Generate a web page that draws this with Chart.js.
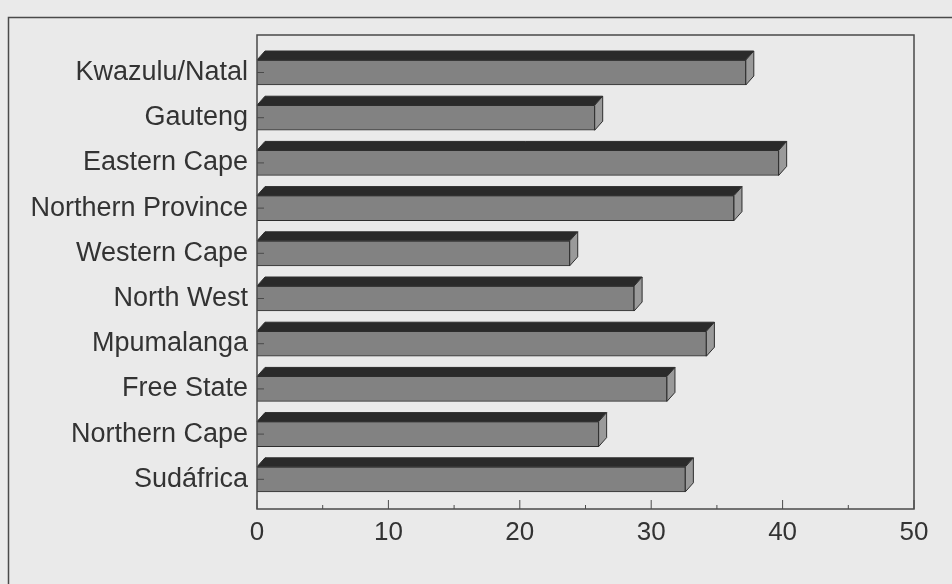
<!DOCTYPE html>
<html>
<head>
<meta charset="utf-8">
<script src="https://cdn.jsdelivr.net/npm/chart.js@4/dist/chart.umd.min.js"></script>
<style>
  html, body { margin: 0; padding: 0; background: #eaeaea; }
  #wrap { width: 952px; height: 584px; }
</style>
</head>
<body>
<div id="wrap"><canvas id="barchart"></canvas></div>
<script>
// provinces, top to bottom
const categories = ['Kwazulu/Natal', 'Gauteng', 'Eastern Cape', 'Northern Province', 'Western Cape',
  'North West', 'Mpumalanga', 'Free State', 'Northern Cape', 'Sudáfrica'];
const values = [37.2, 25.7, 39.7, 36.3, 23.8, 28.7, 34.2, 31.2, 26.0, 32.6];
const xTicks = [0, 10, 20, 30, 40, 50];

const DEPTH_X = 8, DEPTH_Y = 9;

// fake 3D: top face + right side on each bar, plus frame and inward ticks
const box3d = {
  id: 'box3d',
  beforeDraw(chart) {
    const ctx = chart.ctx;
    ctx.save();
    ctx.strokeStyle = '#4a4a4a';
    ctx.lineWidth = 1.5;
    ctx.strokeRect(8.5, 17.5, 1000, 700); // outer frame, runs off right/bottom
    ctx.restore();
  },
  afterDatasetsDraw(chart) {
    const ctx = chart.ctx;
    const meta = chart.getDatasetMeta(0);
    ctx.save();
    ctx.lineWidth = 1;
    ctx.strokeStyle = '#2e2e2e';
    meta.data.forEach(bar => {
      const p = bar.getProps(['x', 'y', 'base', 'height'], true);
      const x0 = p.base, x1 = p.x;
      const top = p.y - p.height / 2, bot = p.y + p.height / 2;
      // top face
      ctx.beginPath();
      ctx.moveTo(x0, top);
      ctx.lineTo(x0 + DEPTH_X, top - DEPTH_Y);
      ctx.lineTo(x1 + DEPTH_X, top - DEPTH_Y);
      ctx.lineTo(x1, top);
      ctx.closePath();
      ctx.fillStyle = '#2a2a2a';
      ctx.fill();
      ctx.stroke();
      // side face
      ctx.beginPath();
      ctx.moveTo(x1, top);
      ctx.lineTo(x1 + DEPTH_X, top - DEPTH_Y);
      ctx.lineTo(x1 + DEPTH_X, bot - DEPTH_Y);
      ctx.lineTo(x1, bot);
      ctx.closePath();
      ctx.fillStyle = '#9a9a9a';
      ctx.fill();
      ctx.stroke();
    });
    // plot frame
    const a = chart.chartArea;
    ctx.strokeStyle = '#4a4a4a';
    ctx.lineWidth = 1.5;
    ctx.strokeRect(a.left, a.top, a.right - a.left, a.bottom - a.top);
    // inward ticks on x
    const xs = chart.scales.x;
    ctx.lineWidth = 1;
    for (let v = 0; v <= 50; v += 5) {
      const px = xs.getPixelForValue(v);
      const len = v % 10 === 0 ? 9 : 4;
      ctx.beginPath();
      ctx.moveTo(px, a.bottom);
      ctx.lineTo(px, a.bottom - len);
      ctx.stroke();
    }
    // inward ticks on y
    const ys = chart.scales.y;
    categories.forEach((c, i) => {
      const py = ys.getPixelForValue(i);
      ctx.beginPath();
      ctx.moveTo(a.left, py);
      ctx.lineTo(a.left + 7, py);
      ctx.stroke();
    });
    ctx.restore();
  }
};

new Chart(document.getElementById('barchart'), {
  type: 'bar',
  data: {
    datasets: [{
      data: values.map((v, i) => ({ x: v, y: i })),
      backgroundColor: '#828282',
      borderColor: '#2e2e2e',
      borderWidth: 1,
      barThickness: 25
    }]
  },
  options: {
    indexAxis: 'y',
    responsive: true,
    maintainAspectRatio: false,
    animation: false,
    layout: { padding: { top: 35, right: 38, left: 0, bottom: 0 } },
    plugins: { legend: { display: false }, tooltip: { enabled: false } },
    scales: {
      x: {
        type: 'linear',
        min: 0,
        max: 50,
        afterBuildTicks: s => { s.ticks = xTicks.map(v => ({ value: v })); },
        afterFit: s => { s.height = 75; },
        grid: { display: false },
        border: { display: false },
        ticks: {
          color: '#333',
          padding: 0,
          font: { family: 'Liberation Sans', size: 26 }
        }
      },
      y: {
        type: 'linear',
        reverse: true,
        offset: false,
        bounds: 'data',
        min: -0.83,
        max: 9.657,
        afterBuildTicks: s => { s.ticks = categories.map((c, i) => ({ value: i })); },
        afterFit: s => { s.width = 257; },
        grid: { display: false, offset: false },
        border: { display: false },
        ticks: {
          color: '#333',
          padding: 1,
          autoSkip: false,
          callback: v => categories[v],
          font: { family: 'Liberation Sans', size: 27 }
        }
      }
    }
  },
  plugins: [box3d]
});
</script>
</body>
</html>
